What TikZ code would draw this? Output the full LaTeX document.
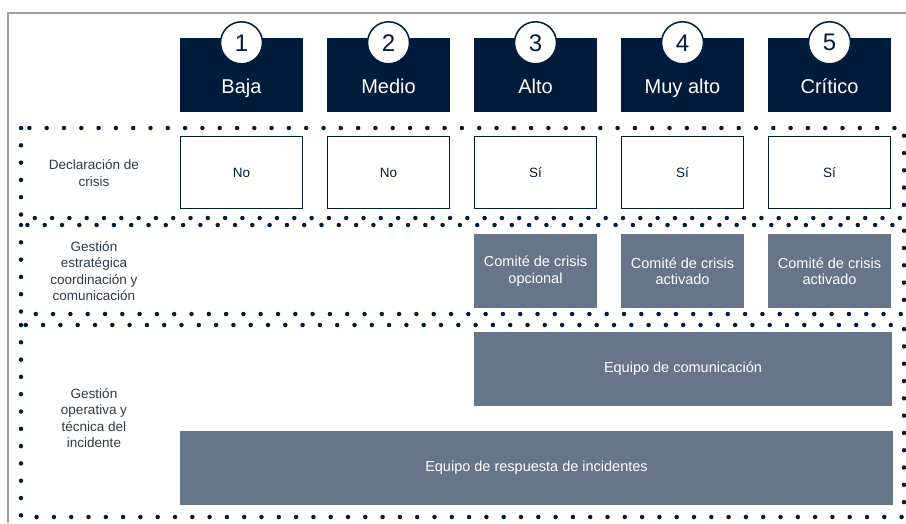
\documentclass[tikz,border=0pt]{standalone}
\usepackage{fontspec}
\setmainfont{Liberation Sans}
\usetikzlibrary{positioning}
\definecolor{navy}{HTML}{001C3A}
\definecolor{slate}{HTML}{667587}
\definecolor{darktext}{HTML}{2E3A46}
\tikzset{
    level/.style={fill=navy,text=white,minimum width=123pt,minimum height=74pt,inner sep=0pt,text height=40pt,text depth=3.4pt,font=\fontsize{20}{23}\selectfont},
    badge/.style={circle,draw=navy,line width=1.5pt,fill=white,text=navy,minimum size=42pt,inner sep=0pt,font=\fontsize{24}{26}\selectfont},
    answer/.style={draw=navy,line width=1.3pt,fill=white,text=navy,minimum width=121.5pt,minimum height=72pt,font=\fontsize{13.5}{15}\selectfont},
    team/.style={fill=slate,text=white,minimum width=#1,minimum height=74pt,align=center,font=\fontsize{14.5}{16.5}\selectfont},
    rowlabel/.style={align=center,text=darktext,font=\fontsize{13.5}{16.5}\selectfont},
    dots/.style={navy,line width=4.5pt,line cap=round,dash pattern=on 0pt off 17.3pt},
    frame/.style={gray!75,line width=1.5pt}
}
\def\colw{147}

\begin{document}
\begin{tikzpicture}[x=1pt,y=-1pt]
  \useasboundingbox (0,0) rectangle (906,523);
  \draw[frame] (8,523) -- (8,13) -- (906,13);

  % Rows
  \draw[dots] (21,128) rectangle (904,218);
  \draw[dots] (21,225) rectangle (904,314);
  \draw[dots] (21,325) rectangle (904,517);
  \node[rowlabel] (decl) at (94,173) {Declaración de\\crisis};
  \node[rowlabel] (strat) at (94,271) {Gestión\\estratégica\\coordinación y\\comunicación};
  \node[rowlabel] (oper) at (94,418) {Gestión\\operativa y\\técnica del\\incidente};

  % Levels
  \node[level] (h1) at (241.5,75) {Baja};
  \node[level] (h2) at (241.5+\colw,75) {Medio};
  \node[level] (h3) at (241.5+2*\colw,75) {Alto};
  \node[level] (h4) at (241.5+3*\colw,75) {Muy alto};
  \node[level] (h5) at (241.5+4*\colw,75) {Crítico};
  \node[badge] (n1) at ([yshift=-5pt]h1.north) {1};
  \node[badge] (n2) at ([yshift=-5pt]h2.north) {2};
  \node[badge] (n3) at ([yshift=-5pt]h3.north) {3};
  \node[badge] (n4) at ([yshift=-5pt]h4.north) {4};
  \node[badge] (n5) at ([yshift=-5pt]h5.north) {5};

  % Crisis declaration
  \node[answer] (d1) at (241.5,172.5) {No};
  \node[answer] (d2) at (241.5+\colw,172.5) {No};
  \node[answer] (d3) at (241.5+2*\colw,172.5) {Sí};
  \node[answer] (d4) at (241.5+3*\colw,172.5) {Sí};
  \node[answer] (d5) at (241.5+4*\colw,172.5) {Sí};

  % Teams
  \node[team=123pt] (c3) at (241.5+2*\colw,271) {Comité de crisis\\opcional};
  \node[team=123pt] (c4) at (241.5+3*\colw,271) {Comité de crisis\\activado};
  \node[team=123pt] (c5) at (241.5+4*\colw,271) {Comité de crisis\\activado};
  \node[team=418pt] (comms) at (683,369) {Equipo de comunicación};
  \node[team=713pt] (resp) at (536.5,468) {Equipo de respuesta de incidentes};
\end{tikzpicture}
\end{document}
